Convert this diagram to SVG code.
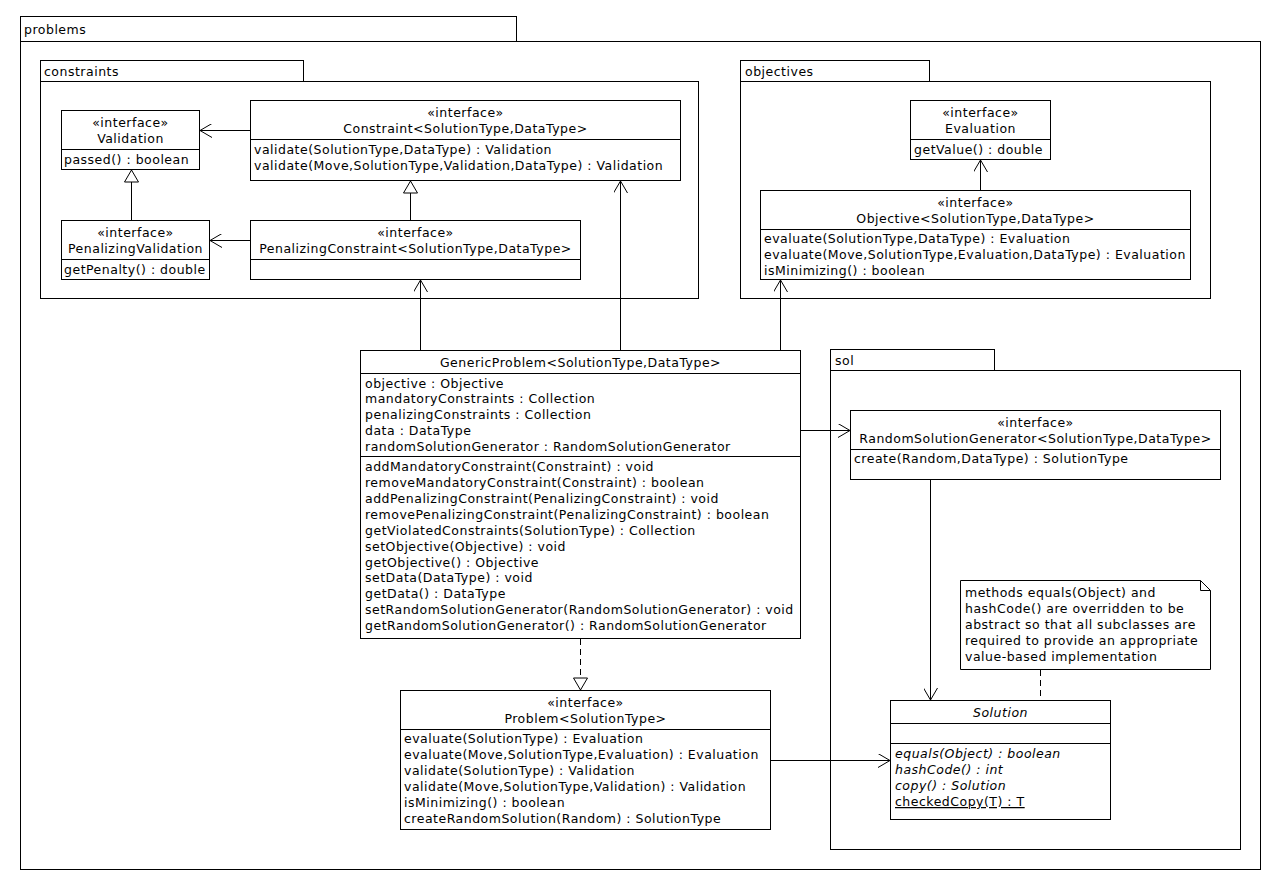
<svg xmlns="http://www.w3.org/2000/svg" width="1280" height="890" viewBox="0 0 1280 890">
<style>
text{font-family:"DejaVu Sans","Liberation Sans",sans-serif;font-size:12.5px;letter-spacing:0.5px;fill:#000}
.c{text-anchor:middle}
.i{font-style:italic}
.box{fill:#fff;stroke:#000;stroke-width:1}
.ln{fill:none;stroke:#000;stroke-width:1}
.dash{fill:none;stroke:#000;stroke-width:1;stroke-dasharray:6,4}
</style>
<defs>
<marker id="open" viewBox="0 0 12 14" refX="12" refY="7" markerWidth="12" markerHeight="14" markerUnits="userSpaceOnUse" orient="auto">
<path d="M0,0 L12,7 L0,14" fill="none" stroke="#000" stroke-width="1"/>
</marker>
<marker id="tri" viewBox="0 0 14 16" refX="13" refY="8" markerWidth="14" markerHeight="16" markerUnits="userSpaceOnUse" orient="auto">
<path d="M1,1 L13,8 L1,15 Z" fill="#fff" stroke="#000" stroke-width="1"/>
</marker>
</defs>
<rect width="1280" height="890" fill="#fff"/>

<g id="pkg-problems">
<rect class="box" x="20.5" y="16.5" width="496" height="25"/>
<rect class="box" x="20.5" y="41.5" width="1240" height="828"/>
<text x="24" y="34">problems</text>
</g>
<g id="pkg-constraints">
<rect class="box" x="40.5" y="60.5" width="263" height="21"/>
<rect class="box" x="40.5" y="81.5" width="658" height="217"/>
<text x="44" y="76">constraints</text>
</g>
<g id="pkg-objectives">
<rect class="box" x="740.5" y="60.5" width="189" height="21"/>
<rect class="box" x="740.5" y="81.5" width="470" height="217"/>
<text x="745" y="76">objectives</text>
</g>
<g id="pkg-sol">
<rect class="box" x="830.5" y="349.5" width="164" height="21"/>
<rect class="box" x="830.5" y="370.5" width="410" height="479"/>
<text x="835" y="365">sol</text>
</g>

<g id="Validation">
<rect class="box" x="61.5" y="110.5" width="138" height="59"/>
<line class="ln" x1="61.5" y1="149.5" x2="199.5" y2="149.5"/>
<text class="c" x="130.5" y="127">«interface»</text>
<text class="c" x="130.5" y="143">Validation</text>
<text x="64" y="164">passed() : boolean</text>
</g>
<g id="Constraint">
<rect class="box" x="250.5" y="100.5" width="430" height="80"/>
<line class="ln" x1="250.5" y1="139.5" x2="680.5" y2="139.5"/>
<text class="c" x="465.5" y="117">«interface»</text>
<text class="c" x="465.5" y="133">Constraint&lt;SolutionType,DataType&gt;</text>
<text x="254" y="154">validate(SolutionType,DataType) : Validation</text>
<text x="254" y="170">validate(Move,SolutionType,Validation,DataType) : Validation</text>
</g>
<g id="PenalizingValidation">
<rect class="box" x="61.5" y="220.5" width="148" height="59"/>
<line class="ln" x1="61.5" y1="259.5" x2="209.5" y2="259.5"/>
<text class="c" x="135.5" y="237">«interface»</text>
<text class="c" x="135.5" y="253">PenalizingValidation</text>
<text x="64" y="274">getPenalty() : double</text>
</g>
<g id="PenalizingConstraint">
<rect class="box" x="250.5" y="220.5" width="330" height="59"/>
<line class="ln" x1="250.5" y1="259.5" x2="580.5" y2="259.5"/>
<text class="c" x="415.5" y="237">«interface»</text>
<text class="c" x="415.5" y="253">PenalizingConstraint&lt;SolutionType,DataType&gt;</text>
</g>
<g id="Evaluation">
<rect class="box" x="910.5" y="100.5" width="140" height="59"/>
<line class="ln" x1="910.5" y1="139.5" x2="1050.5" y2="139.5"/>
<text class="c" x="980.5" y="117">«interface»</text>
<text class="c" x="980.5" y="133">Evaluation</text>
<text x="914" y="154">getValue() : double</text>
</g>
<g id="Objective">
<rect class="box" x="760.5" y="190.5" width="430" height="89"/>
<line class="ln" x1="760.5" y1="229.5" x2="1190.5" y2="229.5"/>
<text class="c" x="975.5" y="207">«interface»</text>
<text class="c" x="975.5" y="223">Objective&lt;SolutionType,DataType&gt;</text>
<text x="764" y="243">evaluate(SolutionType,DataType) : Evaluation</text>
<text x="764" y="259">evaluate(Move,SolutionType,Evaluation,DataType) : Evaluation</text>
<text x="764" y="275">isMinimizing() : boolean</text>
</g>
<g id="GenericProblem">
<rect class="box" x="360.5" y="350.5" width="440" height="288"/>
<line class="ln" x1="360.5" y1="373.5" x2="800.5" y2="373.5"/>
<line class="ln" x1="360.5" y1="456.5" x2="800.5" y2="456.5"/>
<text class="c" x="580.5" y="367">GenericProblem&lt;SolutionType,DataType&gt;</text>
<text x="365" y="388">objective : Objective</text>
<text x="365" y="403">mandatoryConstraints : Collection</text>
<text x="365" y="419">penalizingConstraints : Collection</text>
<text x="365" y="435">data : DataType</text>
<text x="365" y="451">randomSolutionGenerator : RandomSolutionGenerator</text>
<text x="365" y="471">addMandatoryConstraint(Constraint) : void</text>
<text x="365" y="487">removeMandatoryConstraint(Constraint) : boolean</text>
<text x="365" y="503">addPenalizingConstraint(PenalizingConstraint) : void</text>
<text x="365" y="519">removePenalizingConstraint(PenalizingConstraint) : boolean</text>
<text x="365" y="535">getViolatedConstraints(SolutionType) : Collection</text>
<text x="365" y="551">setObjective(Objective) : void</text>
<text x="365" y="567">getObjective() : Objective</text>
<text x="365" y="582">setData(DataType) : void</text>
<text x="365" y="598">getData() : DataType</text>
<text x="365" y="614">setRandomSolutionGenerator(RandomSolutionGenerator) : void</text>
<text x="365" y="630">getRandomSolutionGenerator() : RandomSolutionGenerator</text>
</g>
<g id="Problem">
<rect class="box" x="400.5" y="690.5" width="370" height="139"/>
<line class="ln" x1="400.5" y1="729.5" x2="770.5" y2="729.5"/>
<text class="c" x="585.5" y="707">«interface»</text>
<text class="c" x="585.5" y="723">Problem&lt;SolutionType&gt;</text>
<text x="404" y="743">evaluate(SolutionType) : Evaluation</text>
<text x="404" y="759">evaluate(Move,SolutionType,Evaluation) : Evaluation</text>
<text x="404" y="775">validate(SolutionType) : Validation</text>
<text x="404" y="791">validate(Move,SolutionType,Validation) : Validation</text>
<text x="404" y="807">isMinimizing() : boolean</text>
<text x="404" y="823">createRandomSolution(Random) : SolutionType</text>
</g>
<g id="RandomSolutionGenerator">
<rect class="box" x="850.5" y="410.5" width="370" height="69"/>
<line class="ln" x1="850.5" y1="449.5" x2="1220.5" y2="449.5"/>
<text class="c" x="1035.5" y="427">«interface»</text>
<text class="c" x="1035.5" y="443">RandomSolutionGenerator&lt;SolutionType,DataType&gt;</text>
<text x="854" y="463">create(Random,DataType) : SolutionType</text>
</g>
<g id="Note">
<path class="box" d="M960.5,580.5 H1200.5 L1210.5,590.5 V669.5 H960.5 Z"/>
<path class="ln" d="M1200.5,580.5 V590.5 H1210.5"/>
<text x="965" y="597">methods equals(Object) and</text>
<text x="965" y="613">hashCode() are overridden to be</text>
<text x="965" y="629">abstract so that all subclasses are</text>
<text x="965" y="645">required to provide an appropriate</text>
<text x="965" y="661">value-based implementation</text>
</g>
<g id="Solution">
<rect class="box" x="890.5" y="700.5" width="220" height="119"/>
<line class="ln" x1="890.5" y1="723.5" x2="1110.5" y2="723.5"/>
<line class="ln" x1="890.5" y1="743.5" x2="1110.5" y2="743.5"/>
<text class="c i" x="1000.5" y="717">Solution</text>
<text class="i" x="895" y="758">equals(Object) : boolean</text>
<text class="i" x="895" y="774">hashCode() : int</text>
<text class="i" x="895" y="790">copy() : Solution</text>
<text x="895" y="806" text-decoration="underline">checkedCopy(T) : T</text>
</g>

<g id="connectors">
<line class="ln" x1="250.5" y1="130.5" x2="200" y2="130.5" marker-end="url(#open)"/>
<line class="ln" x1="250.5" y1="240.5" x2="210" y2="240.5" marker-end="url(#open)"/>
<line class="ln" x1="131.5" y1="220.5" x2="131.5" y2="170" marker-end="url(#tri)"/>
<line class="ln" x1="410.5" y1="220.5" x2="410.5" y2="181" marker-end="url(#tri)"/>
<line class="ln" x1="420.5" y1="350.5" x2="420.5" y2="280" marker-end="url(#open)"/>
<line class="ln" x1="620.5" y1="350.5" x2="620.5" y2="181" marker-end="url(#open)"/>
<line class="ln" x1="780.5" y1="350.5" x2="780.5" y2="280" marker-end="url(#open)"/>
<line class="ln" x1="980.5" y1="190.5" x2="980.5" y2="160" marker-end="url(#open)"/>
<line class="ln" x1="800.5" y1="430.5" x2="850" y2="430.5" marker-end="url(#open)"/>
<line class="dash" x1="580.5" y1="639" x2="580.5" y2="690" marker-end="url(#tri)"/>
<line class="ln" x1="770.5" y1="760.5" x2="890" y2="760.5" marker-end="url(#open)"/>
<line class="ln" x1="930.5" y1="479.5" x2="930.5" y2="700" marker-end="url(#open)"/>
<line class="dash" x1="1040.5" y1="670" x2="1040.5" y2="700"/>
</g>
</svg>
